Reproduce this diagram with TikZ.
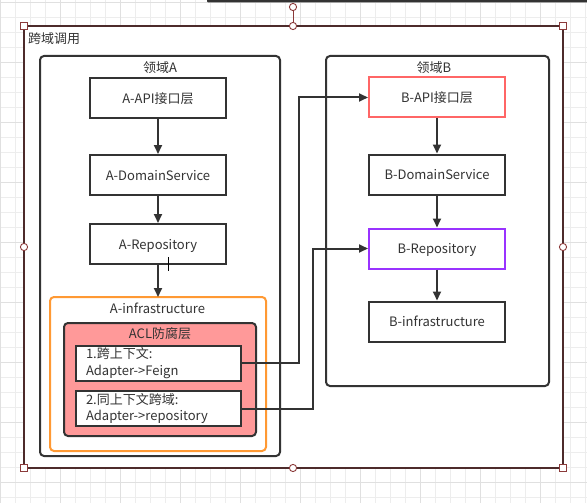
\documentclass[tikz,border=0pt]{standalone}
\usepackage{fontspec}
\setmainfont{Noto Sans CJK SC}
\usetikzlibrary{arrows.meta}

\definecolor{linegray}{HTML}{333333}
\definecolor{apired}{HTML}{FF6666}
\definecolor{repopurple}{HTML}{9933FF}
\definecolor{infraorange}{HTML}{FF9933}
\definecolor{aclpink}{HTML}{FF9999}
\definecolor{gridminor}{HTML}{EDEDED}
\definecolor{gridmajor}{HTML}{E0E0E0}
\definecolor{selframe}{HTML}{4D2B2B}
\definecolor{selhandle}{HTML}{8B3A3A}

\tikzset{
  every node/.style={font=\fontsize{13}{16.5}\selectfont, text=linegray},
  layerbox/.style={draw=linegray, line width=2pt, fill=white,
    minimum width=136pt, minimum height=40pt, inner sep=0pt,
    text height=11pt, text depth=0.5pt},
  aclbox/.style={draw=linegray, line width=2pt, fill=white,
    text width=145pt, inner xsep=10pt, inner ysep=0pt,
    minimum height=35pt, align=left},
  domainbox/.style={draw=linegray, line width=2pt, rounded corners=4pt},
  flow/.style={draw=linegray, line width=2pt, -{Triangle[length=9pt,width=8pt]}},
  handle/.style={draw=selhandle, fill=white, line width=0.9pt},
}

\begin{document}
\begin{tikzpicture}[x=1pt, y=-1pt]
  \useasboundingbox (0,0) rectangle (587,503);
  % editor grid
  \foreach \x in {0,15,...,585}
    \draw[gridminor, line width=0.7pt] (\x,0) -- (\x,503);
  \foreach \y in {2,17,...,497}
    \draw[gridminor, line width=0.7pt] (0,\y) -- (587,\y);
  \foreach \x in {0,60,...,540}
    \draw[gridmajor, line width=0.7pt] (\x,0) -- (\x,503);
  \foreach \y in {2,62,...,482}
    \draw[gridmajor, line width=0.7pt] (0,\y) -- (587,\y);
  \fill[linegray, rounded corners=1pt] (207,-2) rectangle (590,2.5);

  % outer group
  \filldraw[draw=selframe, fill=white, line width=1.8pt] (24,26) rectangle (563,468);
  \node[anchor=west, inner sep=0pt] (crosstitle) at (28,39) {跨域调用};

  % domain A
  \draw[domainbox] (40,56) rectangle (280,456);
  \node (domainA) at (160,68) {领域A};
  \node[layerbox] (aapi) at (158,98) {A-API接口层};
  \node[layerbox] (adomain) at (158,175) {A-DomainService};
  \node[layerbox] (arepo) at (158,244) {A-Repository};
  \draw[line width=0.9pt, black] (168,257) -- (168,271);
  \filldraw[draw=infraorange, fill=white, line width=2pt, rounded corners=4pt]
    (50,297) rectangle (266,451);
  \node (ainfra) at (157.5,308) {A-infrastructure};
  \coordinate (ainfratop) at (158,297);
  \filldraw[draw=linegray, fill=aclpink, line width=2pt, rounded corners=4pt]
    (64,323) rectangle (256,436);
  \node (acl) at (160,334) {ACL防腐层};
  \node[aclbox] (acl1) at (158.5,363) {1.跨上下文:\\Adapter->Feign};
  \node[aclbox] (acl2) at (158.5,408.5) {2.同上下文跨域:\\Adapter->repository};

  % domain B
  \draw[domainbox] (326,56) rectangle (549,386);
  \node (domainB) at (434,68) {领域B};
  \node[layerbox, draw=apired] (bapi) at (437,97.5) {B-API接口层};
  \node[layerbox] (bdomain) at (437,174.5) {B-DomainService};
  \node[layerbox, draw=repopurple] (brepo) at (437,248.5) {B-Repository};
  \node[layerbox] (binfra) at (437,321.5) {B-infrastructure};

  % flows
  \draw[flow] (aapi) -- (adomain);
  \draw[flow] (adomain) -- (arepo);
  \draw[flow] (arepo) -- (ainfratop);
  \draw[flow] (bapi) -- (bdomain);
  \draw[flow] (bdomain) -- (brepo);
  \draw[flow] (brepo) -- (binfra);
  \draw[flow] (acl1.east) -- ++(57,0) |- (bapi.west);
  \draw[flow] (acl2.east) -- ++(71,0) |- (brepo.west);

  % selection handles
  \draw[selhandle, line width=0.9pt] (293,11) -- (293,22);
  \foreach \hx/\hy in {293/7, 293/26, 24/247, 563/247, 293/468}
    \filldraw[handle] (\hx,\hy) circle (3.6pt);
  \foreach \hx/\hy in {24/26, 563/26, 24/468, 563/468}
    \filldraw[handle] (\hx-3.3,\hy-3.3) rectangle (\hx+3.3,\hy+3.3);
\end{tikzpicture}
\end{document}
